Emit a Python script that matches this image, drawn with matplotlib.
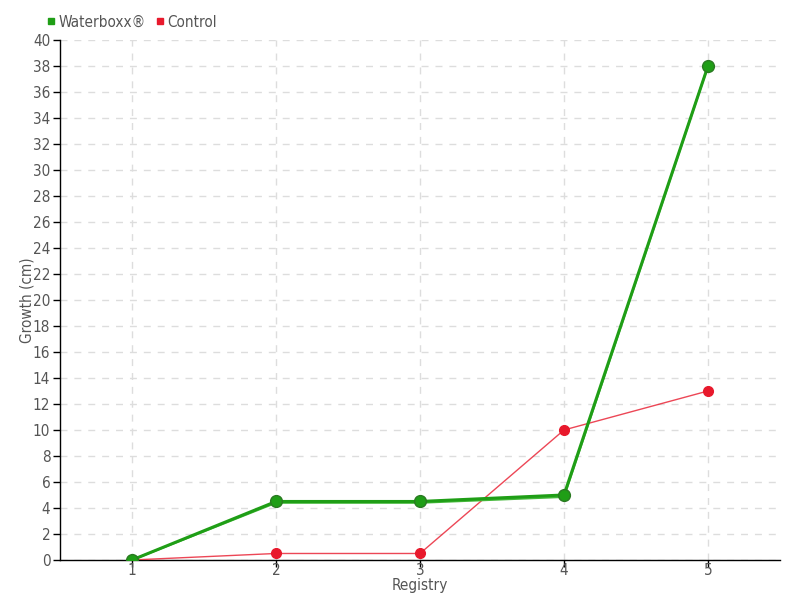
import matplotlib
matplotlib.use("Agg")
import matplotlib.pyplot as plt
from matplotlib.lines import Line2D

# дані
registry = [1, 2, 3, 4, 5]
waterboxx = [0, 4.5, 4.5, 5.0, 38]
waterboxx_alt = [0, 4.4, 4.4, 4.85, 38]
control = [0, 0.5, 0.5, 10, 13]
y_ticks = list(range(0, 41, 2))

green = '#1f9e16'
red = '#e8192c'
text_col = '#555555'

plt.rcParams['font.family'] = ['DejaVu Sans']
plt.rcParams['font.stretch'] = 'condensed'

fig = plt.figure(figsize=(8, 6), dpi=100)
ax = fig.add_axes([0.075, 0.0667, 0.9, 0.8667])

# Control
ax.plot(registry, control, color=red, linewidth=1, alpha=0.8, zorder=3)
ax.plot(registry, control, linestyle='none', marker='o', markersize=7,
        color=red, zorder=4)

# Waterboxx
ax.plot(registry, waterboxx_alt, color='#44b83a', linewidth=1.5, zorder=5)
ax.plot(registry, waterboxx, color=green, linewidth=2.2, zorder=6)
ax.plot(registry, waterboxx, linestyle='none', marker='o', markersize=8.5,
        color=green, markeredgecolor='#2a7a22', markeredgewidth=1, zorder=7)

ax.set_xlim(0.5, 5.5)
ax.set_ylim(0, 40)
ax.set_xticks(registry)
ax.set_yticks(y_ticks)
ax.grid(True, color='#dddddd', linestyle=(0, (5, 5)), linewidth=1)
ax.set_axisbelow(True)

for s in ['top', 'right']:
    ax.spines[s].set_visible(False)
for s in ['left', 'bottom']:
    ax.spines[s].set_color('black')
    ax.spines[s].set_linewidth(1)

ax.tick_params(axis='both', colors='black', labelcolor=text_col,
               labelsize=11, length=5, width=1)
ax.tick_params(axis='y', pad=2)
ax.tick_params(axis='x', pad=-3)

ax.set_ylabel('Growth (cm)', color=text_col, fontsize=11, labelpad=-1)
ax.set_xlabel('Registry', color=text_col, fontsize=11, labelpad=0.5)

handles = [
    Line2D([], [], linestyle='none', marker='s', markersize=5, color=green),
    Line2D([], [], linestyle='none', marker='s', markersize=5, color=red),
]
leg = fig.legend(handles, ['Waterboxx®', 'Control'], loc='center left',
                 bbox_to_anchor=(0.058, 0.963), ncol=2, frameon=False,
                 fontsize=11, handlelength=0.6, handletextpad=0.2,
                 columnspacing=0.6, borderaxespad=0, borderpad=0)
for t in leg.get_texts():
    t.set_color(text_col)

fig.savefig('out.png', dpi=100)
